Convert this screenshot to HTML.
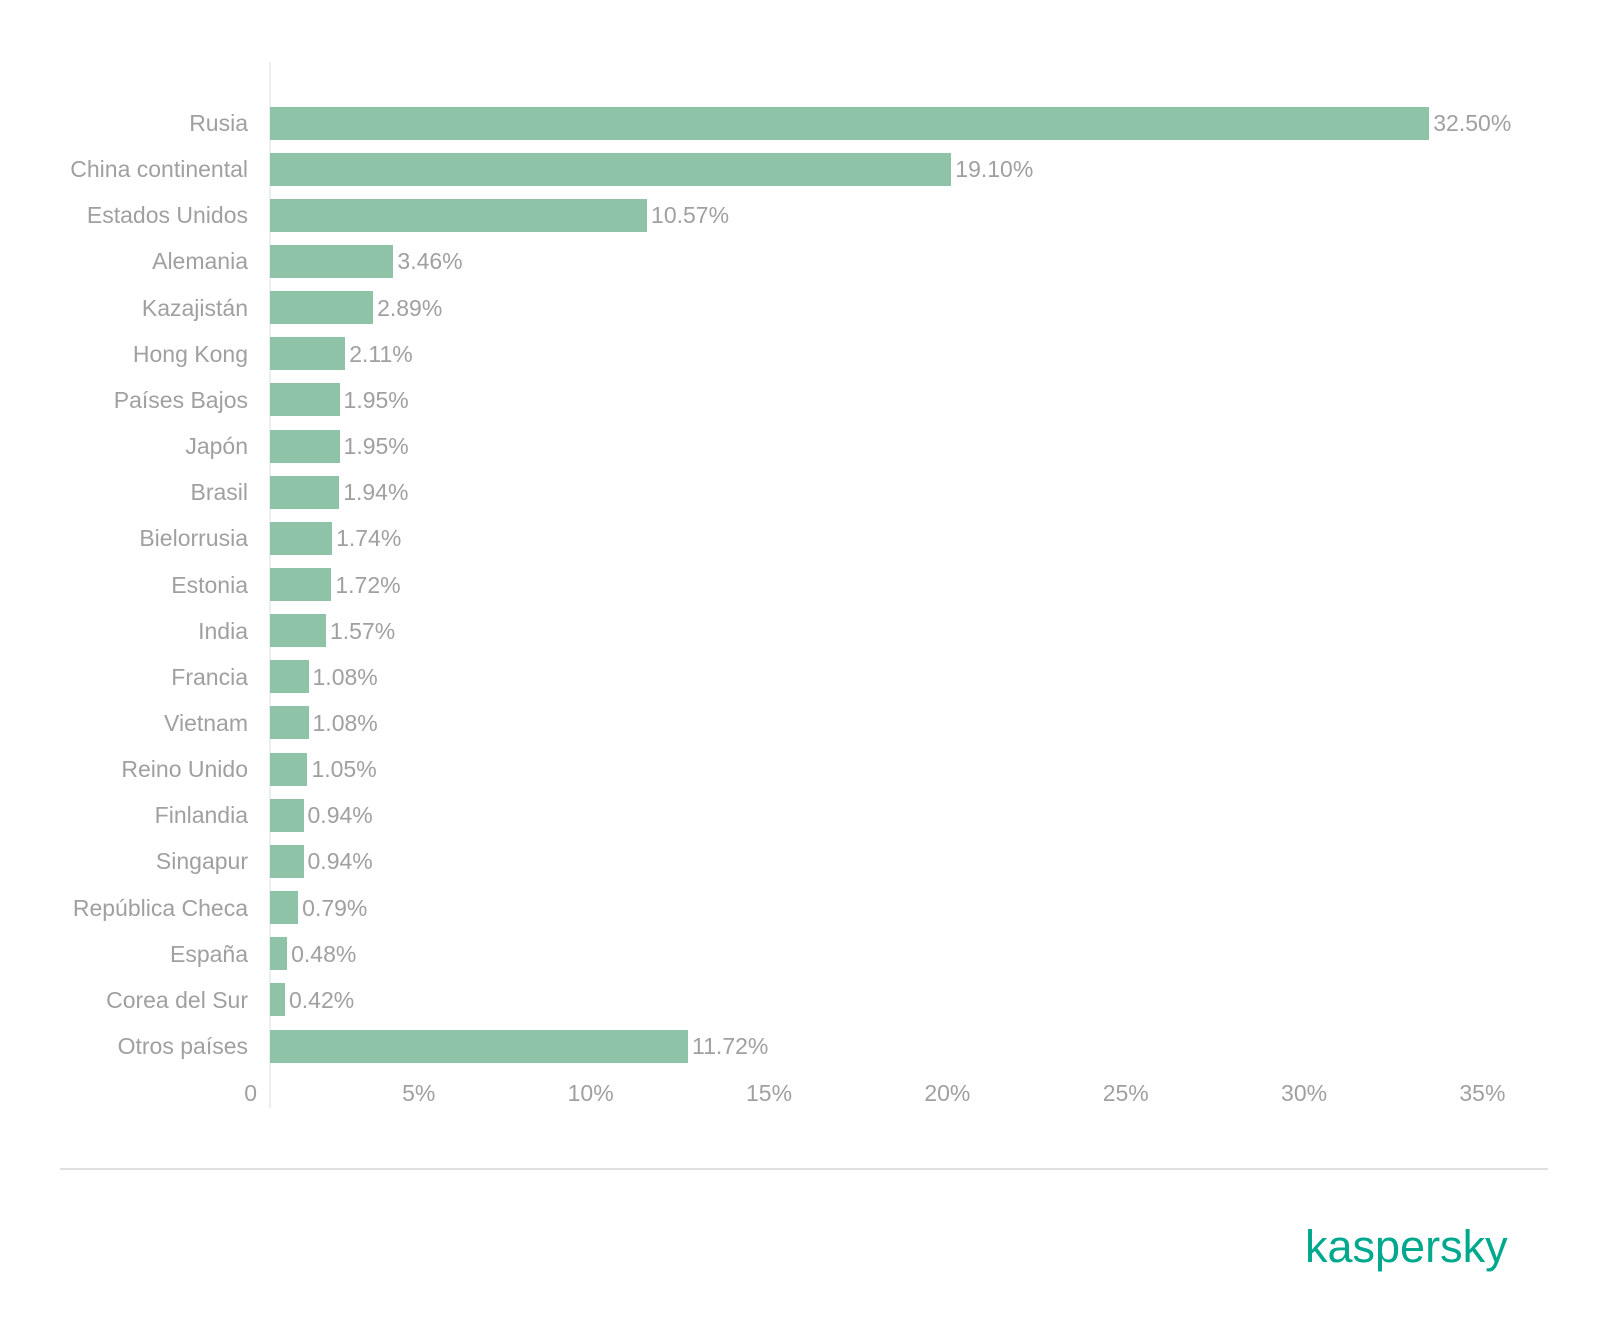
<!DOCTYPE html>
<html><head><meta charset="utf-8"><style>
body{margin:0;width:1600px;height:1332px;background:#fff;position:relative;overflow:hidden;font-family:"Liberation Sans",sans-serif;}
.l{position:absolute;right:1352px;font-size:23px;color:#a0a0a0;line-height:30px;white-space:nowrap;}
.b{position:absolute;left:270px;height:33px;background:#8ec3a7;}
.v{position:absolute;font-size:23px;color:#a0a0a0;line-height:30px;white-space:nowrap;}
.t{position:absolute;top:1078px;font-size:23px;color:#a0a0a0;line-height:30px;text-align:right;width:80px;}
</style></head><body>
<div style="position:absolute;left:269px;top:62px;width:2px;height:1046px;background:#eeeeee"></div>
<div style="position:absolute;left:60px;top:1168px;width:1488px;height:2px;background:#e0e0e0"></div>
<div id="c"></div>
<div style="position:absolute;left:1305px;top:1222px;font-size:45px;color:#00a88e;line-height:50px;">kaspersky</div>
<script>
var d=[["Rusia",32.50],["China continental",19.10],["Estados Unidos",10.57],["Alemania",3.46],["Kazajistán",2.89],["Hong Kong",2.11],["Países Bajos",1.95],["Japón",1.95],["Brasil",1.94],["Bielorrusia",1.74],["Estonia",1.72],["India",1.57],["Francia",1.08],["Vietnam",1.08],["Reino Unido",1.05],["Finlandia",0.94],["Singapur",0.94],["República Checa",0.79],["España",0.48],["Corea del Sur",0.42],["Otros países",11.72]];
var h="",k=35.67;
d.forEach(function(r,i){var c=123+i*46.15,w=r[1]*k;
h+='<div class="l" style="top:'+(c-15)+'px">'+r[0]+'</div>';
h+='<div class="b" style="top:'+(c-16.5)+'px;width:'+w+'px"></div>';
h+='<div class="v" style="top:'+(c-15)+'px;left:'+(274+w)+'px">'+r[1].toFixed(2)+'%</div>';});
for(var i=0;i<=7;i++){var x=270+i*5*k;h+='<div class="t" style="left:'+(x-13-80)+'px">'+(i?i*5+'%':'0')+'</div>';}
document.getElementById("c").innerHTML=h;
</script>
</body></html>
